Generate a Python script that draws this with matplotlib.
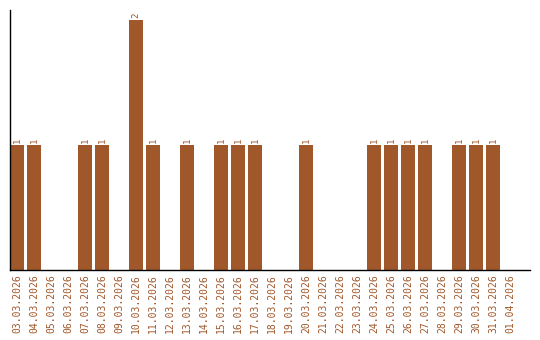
import matplotlib
matplotlib.use("Agg")
import matplotlib.pyplot as plt

dates = ["03.03.2026", "04.03.2026", "05.03.2026", "06.03.2026", "07.03.2026",
         "08.03.2026", "09.03.2026", "10.03.2026", "11.03.2026", "12.03.2026",
         "13.03.2026", "14.03.2026", "15.03.2026", "16.03.2026", "17.03.2026",
         "18.03.2026", "19.03.2026", "20.03.2026", "21.03.2026", "22.03.2026",
         "23.03.2026", "24.03.2026", "25.03.2026", "26.03.2026", "27.03.2026",
         "28.03.2026", "29.03.2026", "30.03.2026", "31.03.2026", "01.04.2026"]
counts = [1, 1, 0, 0, 1, 1, 0, 2, 1, 0, 1, 0, 1, 1, 1, 0, 0, 1, 0, 0, 0,
          1, 1, 1, 1, 0, 1, 1, 1, 0]

color = "#A0572A"
fig = plt.figure(figsize=(5.4, 3.4), dpi=100)
ax = fig.add_axes([10/540, 70/340, 520/540, 260/340])
x = list(range(len(dates)))
ax.bar(x, counts, width=0.82, color=color)
for xi, v in zip(x, counts):
    if v > 0:
        ax.text(xi, v + 0.02, str(v), rotation=90, ha="center", va="bottom",
                fontsize=6.5, color=color, family="DejaVu Sans Mono")
ax.set_xlim(-0.41, 30.18)
ax.set_ylim(0, 2.08)
ax.set_xticks(x)
ax.set_xticklabels(dates, rotation=90, fontsize=7, color=color, family="DejaVu Sans Mono")
ax.tick_params(axis="x", length=0, pad=3)
ax.set_yticks([])
for s in ["top", "right"]:
    ax.spines[s].set_visible(False)
ax.spines["left"].set_linewidth(1)
ax.spines["bottom"].set_linewidth(1)
fig.savefig("out.png", dpi=100)
